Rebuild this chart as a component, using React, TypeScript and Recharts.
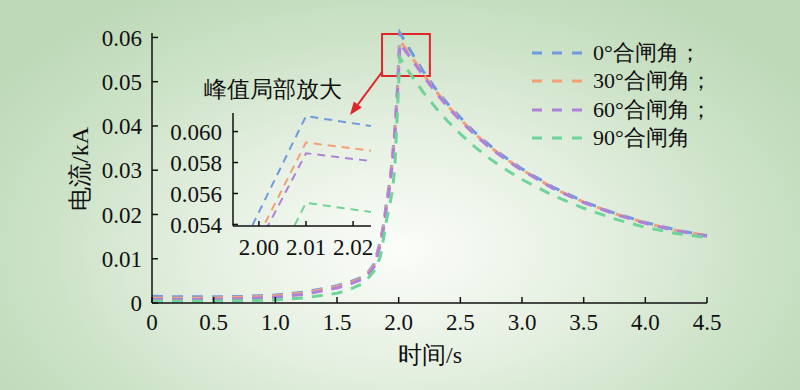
import { LineChart, Line, XAxis, YAxis, ReferenceArea } from 'recharts';

// time (s)
const time = [
    0, 0.25, 0.5, 0.75, 1.0, 1.25, 1.5,
    1.6, 1.7, 1.75, 1.8, 1.85, 1.88, 1.9,
    1.93, 1.95, 1.97, 1.99, 2.0, 2.01,
    2.1, 2.2, 2.3, 2.4, 2.5, 2.6, 2.7, 2.8, 2.9, 3.0,
    3.25, 3.5, 3.75, 4.0, 4.25, 4.5
];

// current (kA) per closing angle
const angle0 = [
    0.0015, 0.0014, 0.0014, 0.0015, 0.0018, 0.0025, 0.0039,
    0.0047, 0.0058, 0.0068, 0.0088, 0.0138, 0.0182, 0.0225,
    0.0278, 0.033, 0.0395, 0.0486, 0.0548, 0.061,
    0.0568, 0.0523, 0.0484, 0.0449, 0.0419, 0.039, 0.0365, 0.0342, 0.0322, 0.0303,
    0.0262, 0.0229, 0.0203, 0.0182, 0.0165, 0.0152
];
const angle30 = [
    0.0011, 0.0011, 0.0011, 0.0013, 0.0016, 0.0023, 0.0037,
    0.0045, 0.0056, 0.0066, 0.0085, 0.0135, 0.0178, 0.022,
    0.0273, 0.0325, 0.039, 0.0473, 0.0533, 0.0593,
    0.0558, 0.0517, 0.0479, 0.0445, 0.0415, 0.0387, 0.0362, 0.034, 0.032, 0.0301,
    0.026, 0.0228, 0.0202, 0.0181, 0.0164, 0.0152
];
const angle60 = [
    0.0008, 0.0008, 0.0008, 0.001, 0.0013, 0.002, 0.0034,
    0.0042, 0.0053, 0.0063, 0.0081, 0.013, 0.0172, 0.0215,
    0.0268, 0.032, 0.0385, 0.047, 0.0528, 0.0586,
    0.0553, 0.0513, 0.0476, 0.0442, 0.0412, 0.0385, 0.036, 0.0338, 0.0318, 0.03,
    0.0259, 0.0227, 0.0201, 0.018, 0.0163, 0.0151
];
const angle90 = [
    0.0004, 0.0004, 0.0004, 0.0005, 0.0007, 0.0012, 0.0022,
    0.003, 0.0043, 0.0055, 0.0072, 0.0103, 0.015, 0.0185,
    0.0225, 0.0255, 0.031, 0.0434, 0.0494, 0.0554,
    0.0515, 0.0476, 0.0441, 0.041, 0.0382, 0.0357, 0.0334, 0.0314, 0.0296, 0.0279,
    0.0243, 0.0214, 0.019, 0.0171, 0.0157, 0.0148
];

const seriesNames = ['0°合闸角；', '30°合闸角；', '60°合闸角；', '90°合闸角'];
const xTicks = [0, 0.5, 1.0, 1.5, 2.0, 2.5, 3.0, 3.5, 4.0, 4.5];
const yTicks = [0, 0.01, 0.02, 0.03, 0.04, 0.05, 0.06];
const insetXTicks = [2.0, 2.01, 2.02];
const insetYTicks = [0.054, 0.056, 0.058, 0.06];

const colors = ['#6f9ae0', '#f3a078', '#ad82d8', '#6fd49a'];
const keys = ['a0', 'a30', 'a60', 'a90'];

const data = time.map((t, i) => ({
    t,
    a0: angle0[i],
    a30: angle30[i],
    a60: angle60[i],
    a90: angle90[i]
}));

const serif = "'Liberation Serif', 'Times New Roman', 'DejaVu Serif', serif";
const tickStyle = { fill: '#111', fontSize: 23, fontFamily: serif };
const axisLine = { stroke: '#111', strokeWidth: 1.5 };

function App() {
    return (
        <div style={{
            position: 'absolute',
            left: 0,
            top: 0,
            width: 800,
            height: 390,
            overflow: 'hidden',
            fontFamily: serif,
            background: 'radial-gradient(ellipse 62% 78% at 50% 64%, #fbfdf9 0%, #e6f0e2 38%, #cde3c8 70%, #bcd8b6 100%)'
        }}>
            {/* main chart */}
            <div style={{ position: 'absolute', left: 0, top: 0 }}>
                <LineChart width={800} height={390} data={data}
                    margin={{ top: 33, right: 93, bottom: 57, left: 92 }}>
                    <XAxis dataKey="t" type="number" domain={[0, 4.5]} ticks={xTicks} interval={0}
                        tickFormatter={(v: number) => (v === 0 ? '0' : v.toFixed(1))}
                        height={30} tickSize={-6} tickMargin={17}
                        axisLine={axisLine} tickLine={axisLine} tick={tickStyle} />
                    <YAxis type="number" domain={[0, 0.06]} ticks={yTicks} interval={0}
                        tickFormatter={(v: number) => (v === 0 ? '0' : v.toFixed(2))}
                        width={60} tickSize={-6} tickMargin={16}
                        axisLine={axisLine} tickLine={axisLine} tick={tickStyle} />
                    <ReferenceArea x1={1.865} x2={2.253} y1={0.0513} y2={0.0608}
                        fill="none" fillOpacity={0} stroke="#e0262b" strokeWidth={2} />
                    {keys.map((k, i) => (
                        <Line key={k} dataKey={k} type="linear" stroke={colors[i]}
                            strokeWidth={3} strokeDasharray="11 9" dot={false}
                            isAnimationActive={false} />
                    ))}
                </LineChart>
            </div>

            {/* inset: peak zoom */}
            <div style={{ position: 'absolute', left: 150, top: 100 }}>
                <LineChart width={240} height={160} data={data}
                    margin={{ top: 13, right: 19, bottom: 4, left: 13 }}>
                    <XAxis dataKey="t" type="number" domain={[1.9945, 2.0238]} ticks={insetXTicks}
                        interval={0} allowDataOverflow tickFormatter={(v: number) => v.toFixed(2)}
                        height={30} tickSize={-5} tickMargin={18}
                        axisLine={axisLine} tickLine={axisLine} tick={tickStyle} />
                    <YAxis type="number" domain={[0.0539, 0.0612]} ticks={insetYTicks}
                        interval={0} allowDataOverflow tickFormatter={(v: number) => v.toFixed(3)}
                        width={70} tickSize={-5} tickMargin={16}
                        axisLine={axisLine} tickLine={axisLine} tick={tickStyle} />
                    {keys.map((k, i) => (
                        <Line key={k} dataKey={k} type="linear" stroke={colors[i]}
                            strokeWidth={2} strokeDasharray="8 6" dot={false}
                            isAnimationActive={false} />
                    ))}
                </LineChart>
            </div>

            {/* arrow from box to inset */}
            <svg width={800} height={390} style={{ position: 'absolute', left: 0, top: 0, pointerEvents: 'none' }}>
                <line x1={382} y1={72} x2={357.8} y2={104.6} stroke="#e0262b" strokeWidth={2} />
                <polygon points="350,115 361.8,107.6 353.8,101.6" fill="#e0262b" />
            </svg>

            {/* inset title */}
            <div style={{
                position: 'absolute', left: 204, top: 74, fontSize: 23,
                color: '#111', whiteSpace: 'nowrap'
            }}>
                峰值局部放大
            </div>

            {/* legend */}
            <div style={{ position: 'absolute', left: 532, top: 39 }}>
                {seriesNames.map((name, i) => (
                    <div key={name} style={{ display: 'flex', alignItems: 'center', height: 28.3 }}>
                        <svg width={50} height={4}>
                            <line x1={0} y1={2} x2={50} y2={2} stroke={colors[i]}
                                strokeWidth={3} strokeDasharray="10 10" />
                        </svg>
                        <span style={{
                            marginLeft: 11, fontSize: 22,
                            color: '#111', whiteSpace: 'nowrap', lineHeight: 1
                        }}>{name}</span>
                    </div>
                ))}
            </div>

            {/* axis titles */}
            <div style={{
                position: 'absolute', left: 80, top: 169, fontSize: 24,
                color: '#111', whiteSpace: 'nowrap', transform: 'translate(-50%, -50%) rotate(-90deg)'
            }}>
                电流/kA
            </div>
            <div style={{
                position: 'absolute', left: 430, top: 355, fontSize: 24,
                color: '#111', whiteSpace: 'nowrap', transform: 'translate(-50%, -50%)'
            }}>
                时间/s
            </div>
        </div>
    );
}

export default App;
